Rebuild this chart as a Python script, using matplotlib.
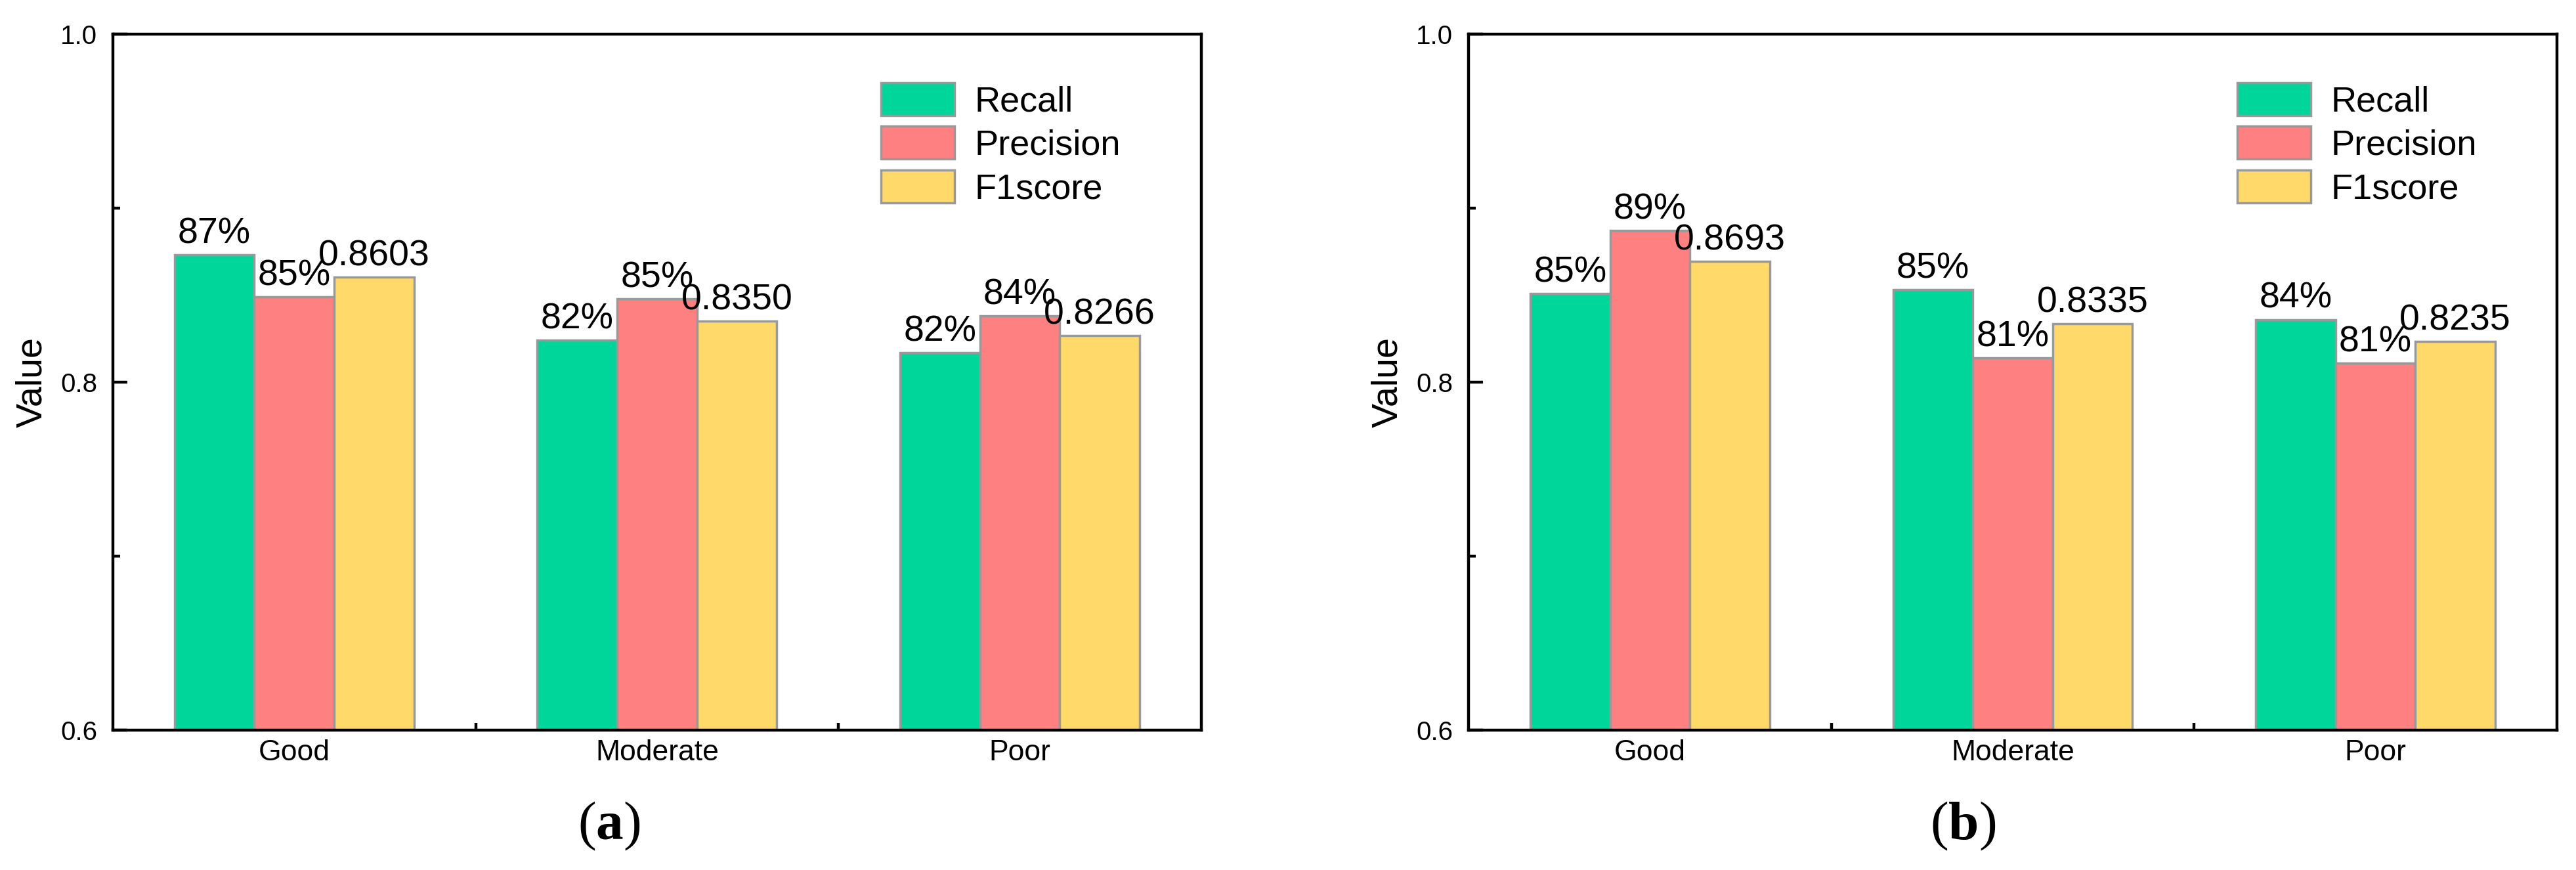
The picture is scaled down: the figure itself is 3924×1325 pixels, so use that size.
import matplotlib.pyplot as plt
from matplotlib.ticker import FixedLocator
import numpy as np

plt.rcParams['font.family'] = ['Liberation Sans', 'DejaVu Sans']
plt.rcParams['mathtext.fontset'] = 'custom'
plt.rcParams['mathtext.rm'] = 'Liberation Serif'
plt.rcParams['mathtext.bf'] = 'Liberation Serif:bold'

categories = ['Good', 'Moderate', 'Poor']
series = ['Recall', 'Precision', 'F1score']

a_recall = [0.873, 0.824, 0.817]
a_precision = [0.849, 0.848, 0.838]
a_f1 = [0.8603, 0.8350, 0.8266]

b_recall = [0.851, 0.853, 0.836]
b_precision = [0.887, 0.814, 0.811]
b_f1 = [0.8693, 0.8335, 0.8235]

colors = ['#00D69A', '#FF8080', '#FFDA6A']
edge = '#999999'


def draw_panel(ax, recall, precision, f1):
    x = np.arange(len(categories))
    w = 0.22
    vals = [recall, precision, f1]
    for i, (v, name, c) in enumerate(zip(vals, series, colors)):
        bars = ax.bar(x + (i - 1) * w, v, w, color=c, edgecolor=edge,
                      linewidth=2.5, label=name, zorder=2)
        for b, val in zip(bars, v):
            if i < 2:
                txt = '{:.0f}%'.format(val * 100)
            else:
                txt = '{:.4f}'.format(val)
            ax.annotate(txt, (b.get_x() + b.get_width() / 2, b.get_height()),
                        xytext=(0, 4), textcoords='offset points',
                        ha='center', va='bottom', fontsize=40)
    ax.set_xlim(-0.5, 2.5)
    ax.set_ylim(0.6, 1.0)
    ax.set_xticks(x)
    ax.set_xticklabels(categories)
    ax.xaxis.set_minor_locator(FixedLocator([0.5, 1.5]))
    ax.set_yticks([0.6, 0.8, 1.0])
    ax.yaxis.set_minor_locator(FixedLocator([0.7, 0.9]))
    ax.tick_params(which='both', direction='in', width=3.2, top=False, right=False)
    ax.tick_params(which='major', length=16)
    ax.tick_params(which='minor', length=8)
    ax.tick_params(axis='x', which='major', labelsize=32, pad=10)
    ax.tick_params(axis='y', which='major', labelsize=29, pad=17)
    for s in ax.spines.values():
        s.set_linewidth(3.2)
    ax.set_ylabel('Value', fontsize=40, labelpad=12)
    ax.legend(loc='upper left', bbox_to_anchor=(0.706, 0.93), frameon=False,
              fontsize=39, handlelength=2.07, handleheight=1.04,
              handletextpad=0.56, labelspacing=0.22, borderpad=0,
              borderaxespad=0)


fig = plt.figure(figsize=(39.24, 13.25), dpi=100)
ax1 = fig.add_axes([0.0438, 0.1608, 0.4225, 0.8])
ax2 = fig.add_axes([0.5701, 0.1608, 0.4225, 0.8])

draw_panel(ax1, a_recall, a_precision, a_f1)
draw_panel(ax2, b_recall, b_precision, b_f1)

fig.text(0.2365, 0.05, r'$\mathrm{(}\mathbf{a}\mathrm{)}$', fontsize=60,
         ha='center', va='center')
fig.text(0.762, 0.05, r'$\mathrm{(}\mathbf{b}\mathrm{)}$', fontsize=60,
         ha='center', va='center')

fig.savefig('out.png', dpi=100)
